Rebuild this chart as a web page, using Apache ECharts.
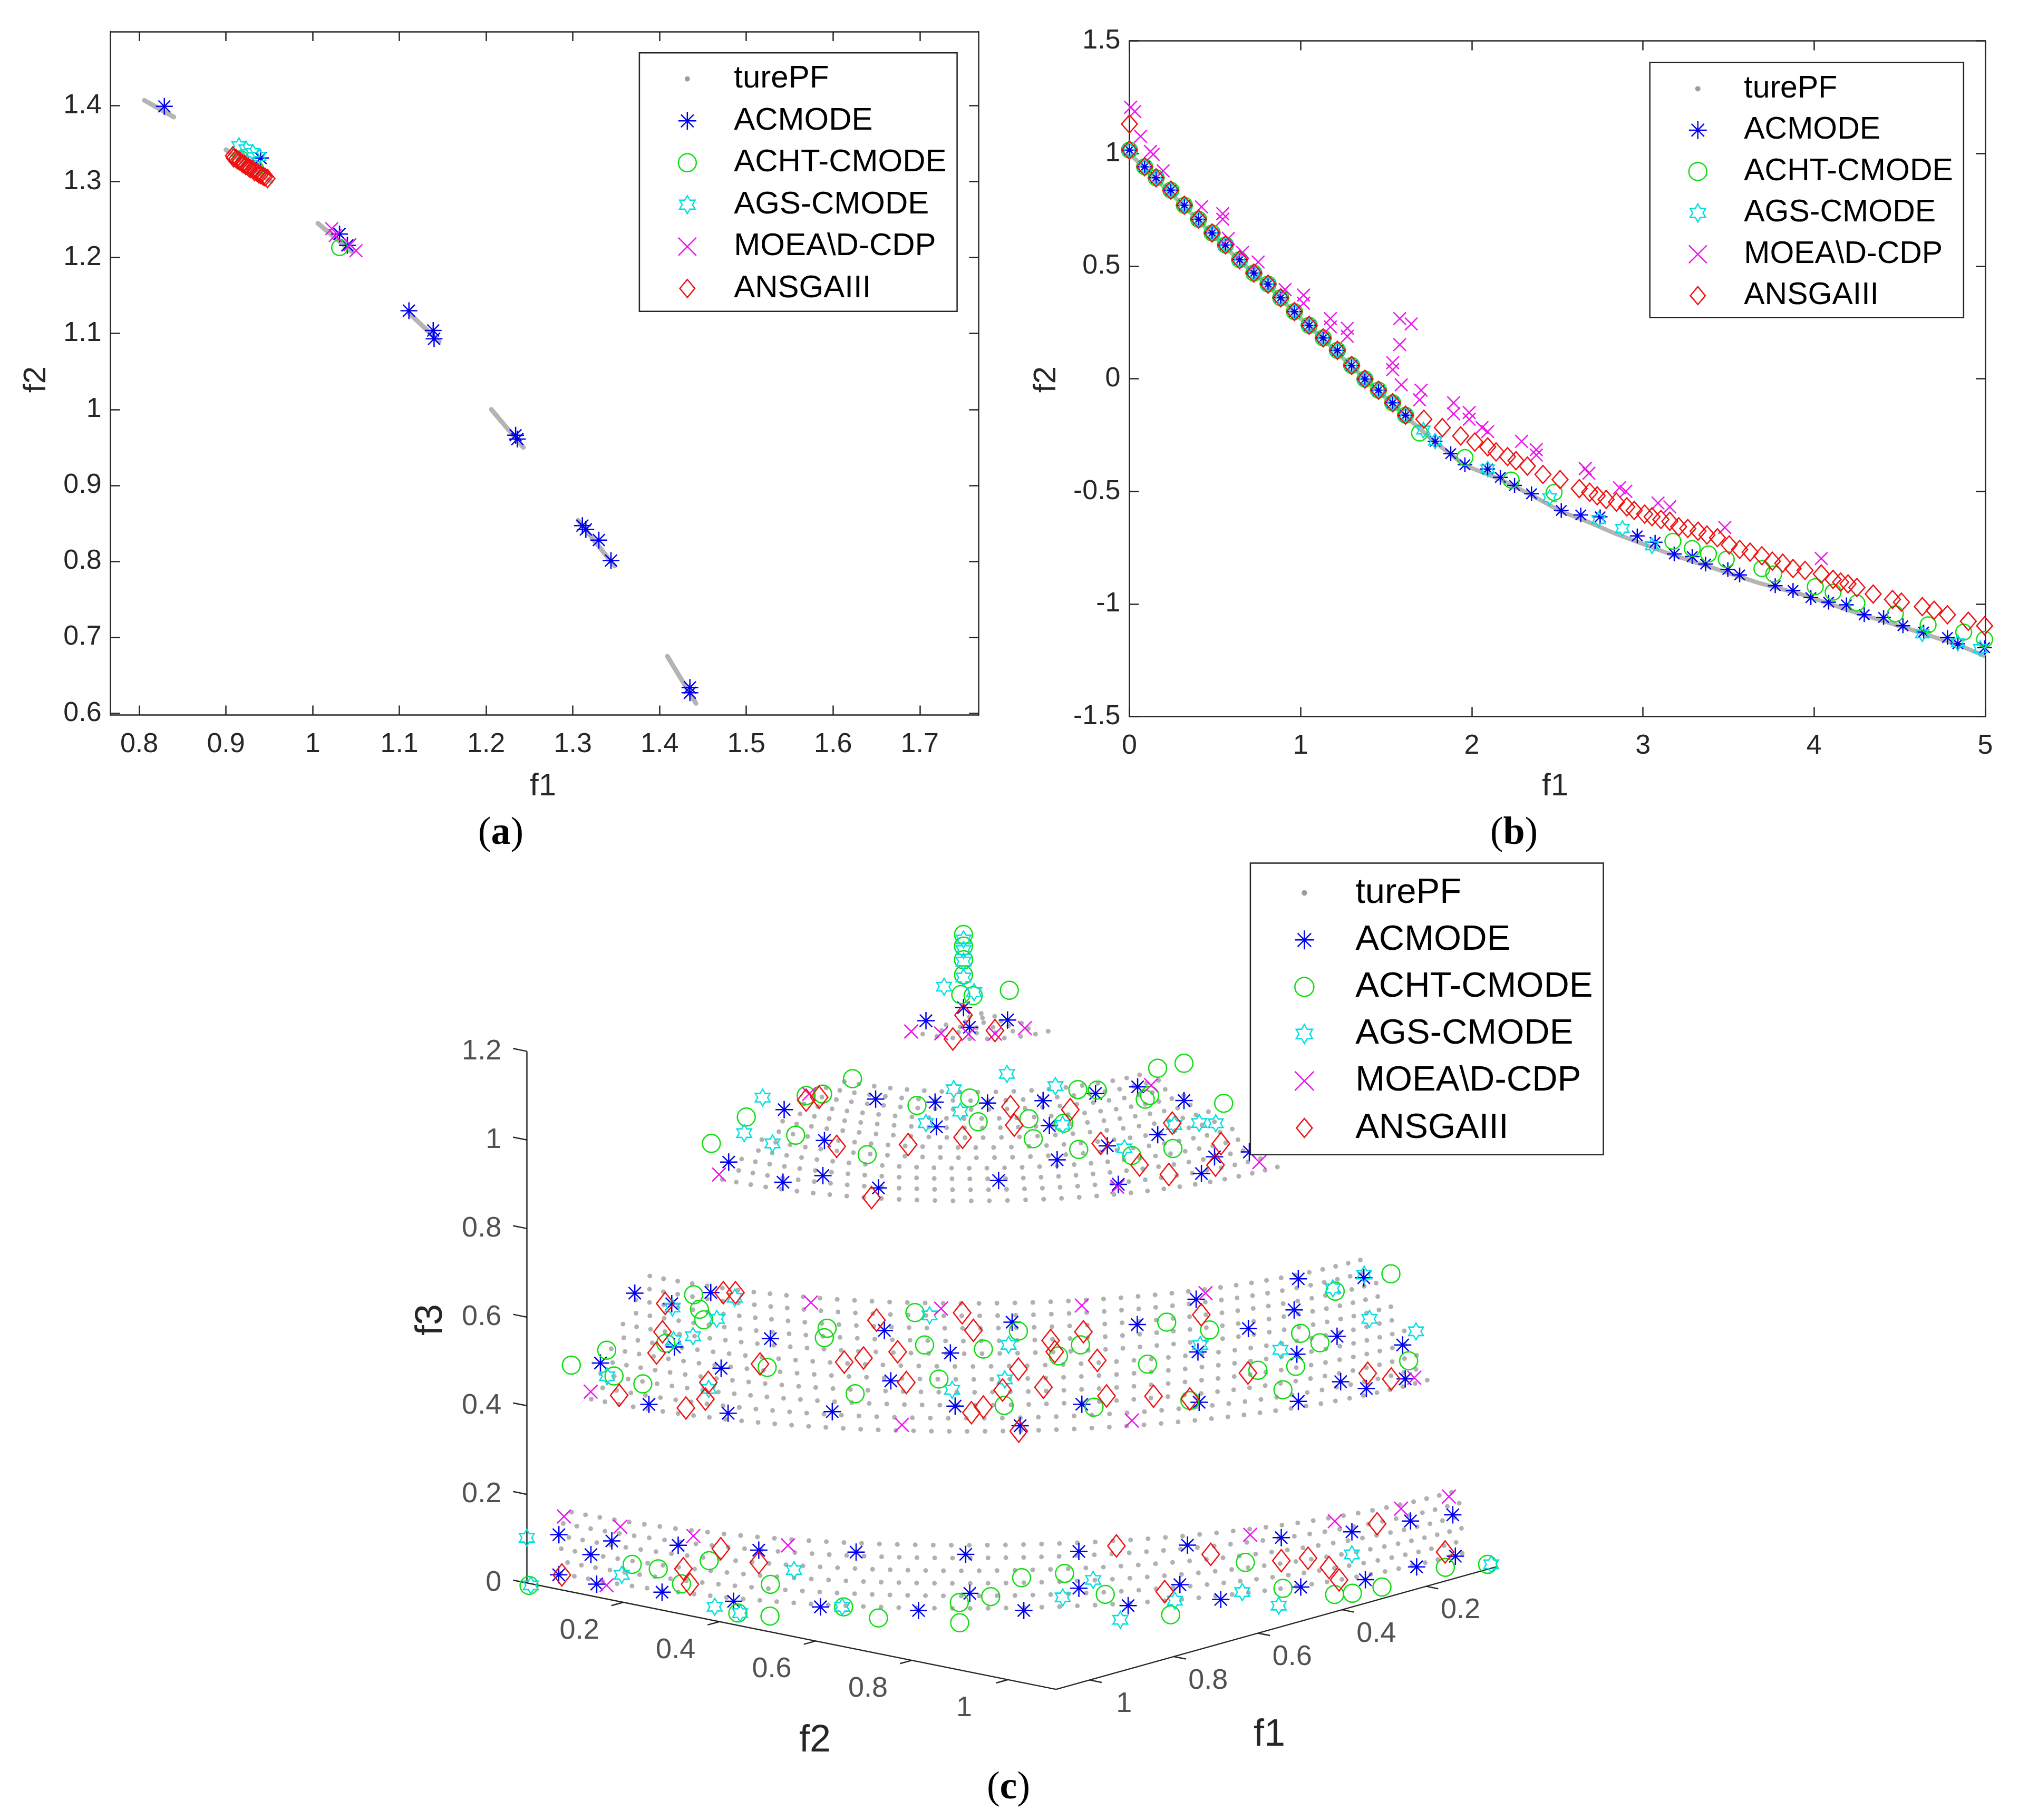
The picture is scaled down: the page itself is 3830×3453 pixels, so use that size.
<!DOCTYPE html>
<html>
<head>
<meta charset="utf-8">
<title>Pareto fronts (a) (b) (c)</title>
<script src="https://cdn.jsdelivr.net/npm/echarts@6/dist/echarts.min.js"></script>
<style>
html,body{margin:0;padding:0;background:#ffffff;}
#chart{width:3830px;height:3453px;}
</style>
</head>
<body>
<div id="chart"></div>
<script>
// ================= DATA =================
const SERIES_NAMES = ['turePF', 'ACMODE', 'ACHT-CMODE', 'AGS-CMODE', 'MOEA\\D-CDP', 'ANSGAIII'];

// ---- panel (a) ----
const A_X_TICKS = [0.8, 0.9, 1, 1.1, 1.2, 1.3, 1.4, 1.5, 1.6, 1.7];
const A_Y_TICKS = [0.6, 0.7, 0.8, 0.9, 1, 1.1, 1.2, 1.3, 1.4];
const A_X_RANGE = [0.7669, 1.7678];
const A_Y_RANGE = [0.5978, 1.4975];
const A_TRUEPF_SEGMENTS = [
  [[0.806, 1.407], [0.840, 1.385]],
  [[0.900, 1.342], [0.952, 1.300]],
  [[1.006, 1.245], [1.045, 1.208]],
  [[1.111, 1.127], [1.146, 1.089]],
  [[1.206, 1.000], [1.243, 0.950]],
  [[1.306, 0.854], [1.348, 0.794]],
  [[1.409, 0.675], [1.442, 0.613]]
];
const A_ACMODE = [[0.829,1.399],[0.940,1.331],[1.031,1.231],[1.040,1.216],[1.111,1.130],[1.139,1.104],[1.140,1.093],[1.234,0.966],[1.236,0.961],[1.311,0.847],[1.315,0.842],[1.330,0.828],[1.344,0.801],[1.435,0.634],[1.435,0.627]];
const A_ACHT = [[1.031,1.213],[0.917,1.330],[0.934,1.317]];
const A_AGS = [[0.915,1.347],[0.923,1.343],[0.931,1.338],[0.938,1.333]];
const A_MOEA = [[1.022,1.238],[1.026,1.229],[1.043,1.217],[1.050,1.209]];
const A_ANSGA = [[0.908,1.334],[0.909,1.331],[0.912,1.330],[0.914,1.328],[0.916,1.327],[0.919,1.324],[0.921,1.323],[0.923,1.321],[0.926,1.319],[0.928,1.317],[0.931,1.316],[0.933,1.313],[0.936,1.312],[0.938,1.310],[0.940,1.309],[0.943,1.307],[0.945,1.306],[0.948,1.304]];

// ---- panel (b) ----
const B_X_RANGE = [0, 5], B_X_STEP = 1;
const B_Y_RANGE = [-1.5, 1.5], B_Y_STEP = 0.5;
const B_TRUEPF = [[0,1.0],[0.156,0.885],[0.321,0.765],[0.483,0.642],[0.644,0.523],[0.810,0.414],[0.964,0.293],[1.132,0.176],[1.298,0.054],[1.455,-0.056],[1.613,-0.167],[1.786,-0.282],[1.960,-0.385],[2.167,-0.447],[2.349,-0.517],[2.523,-0.590],[2.672,-0.633],[2.845,-0.690],[3.157,-0.778],[3.452,-0.851],[3.678,-0.907],[3.920,-0.956],[4.233,-1.036],[4.545,-1.109],[4.840,-1.181],[5.0,-1.232]];
const B_COMMON_FRONT = [[0,1.015],[0.089,0.941],[0.156,0.892],[0.242,0.837],[0.321,0.770],[0.404,0.708],[0.483,0.647],[0.561,0.594],[0.644,0.528],[0.727,0.469],[0.810,0.420],[0.884,0.359],[0.964,0.298],[1.050,0.237],[1.132,0.181],[1.215,0.126],[1.298,0.059],[1.376,-0.002],[1.455,-0.051],[1.538,-0.107],[1.613,-0.162]];
const B_ACMODE_TAIL = [[1.786,-0.278],[1.877,-0.333],[1.960,-0.382],[2.093,-0.401],[2.167,-0.438],[2.250,-0.474],[2.349,-0.511],[2.523,-0.585],[2.637,-0.605],[2.750,-0.613],[2.967,-0.698],[3.071,-0.726],[3.183,-0.778],[3.288,-0.790],[3.366,-0.823],[3.496,-0.847],[3.565,-0.871],[3.773,-0.919],[3.877,-0.940],[3.981,-0.972],[4.085,-0.992],[4.189,-1.004],[4.293,-1.048],[4.406,-1.060],[4.519,-1.097],[4.640,-1.125],[4.779,-1.149],[4.840,-1.177],[4.996,-1.194]];
const B_ACHT_TAIL = [[1.695,-0.241],[1.960,-0.350],[2.230,-0.450],[2.481,-0.505],[3.175,-0.722],[3.288,-0.754],[3.383,-0.778],[3.487,-0.802],[3.695,-0.843],[3.764,-0.867],[4.007,-0.923],[4.111,-0.948],[4.250,-0.996],[4.475,-1.044],[4.666,-1.093],[4.874,-1.125],[4.996,-1.157]];
const B_AGS_TAIL = [[1.717,-0.228],[1.786,-0.277],[2.093,-0.401],[2.455,-0.528],[2.741,-0.625],[2.880,-0.665],[3.053,-0.742],[4.632,-1.133],[4.840,-1.173],[4.970,-1.198]];
const B_MOEA = [[0.007,1.205],[0.031,1.186],[0.065,1.076],[0.123,1.009],[0.139,0.996],[0.197,0.923],[0.421,0.763],[0.545,0.733],[0.545,0.708],[0.578,0.623],[0.661,0.561],[0.752,0.518],[0.909,0.396],[1.017,0.371],[1.017,0.335],[1.174,0.267],[1.174,0.230],[1.273,0.224],[1.273,0.188],[1.579,0.267],[1.646,0.243],[1.579,0.151],[1.538,0.071],[1.538,0.040],[1.588,-0.027],[1.704,-0.051],[1.695,-0.094],[1.894,-0.107],[1.894,-0.156],[1.985,-0.150],[1.985,-0.180],[2.060,-0.217],[2.093,-0.235],[2.291,-0.278],[2.377,-0.315],[2.377,-0.339],[2.663,-0.399],[2.684,-0.420],[2.863,-0.484],[2.900,-0.500],[3.088,-0.552],[3.157,-0.569],[3.478,-0.661],[4.042,-0.798]];
const B_ANSGA_HEAD = [[0,1.131]];
const B_ANSGA_TAIL = [[1.720,-0.180],[1.828,-0.217],[1.935,-0.254],[2.018,-0.281],[2.093,-0.303],[2.142,-0.325],[2.209,-0.346],[2.258,-0.364],[2.325,-0.388],[2.416,-0.425],[2.516,-0.448],[2.628,-0.488],[2.689,-0.504],[2.733,-0.520],[2.785,-0.536],[2.845,-0.548],[2.906,-0.569],[2.949,-0.585],[3.010,-0.601],[3.053,-0.613],[3.105,-0.625],[3.157,-0.633],[3.209,-0.657],[3.262,-0.665],[3.322,-0.677],[3.374,-0.694],[3.435,-0.706],[3.504,-0.738],[3.565,-0.758],[3.626,-0.770],[3.695,-0.786],[3.756,-0.810],[3.817,-0.819],[3.877,-0.843],[3.947,-0.851],[4.042,-0.867],[4.111,-0.891],[4.155,-0.903],[4.198,-0.911],[4.250,-0.927],[4.345,-0.956],[4.458,-0.980],[4.510,-0.992],[4.632,-1.012],[4.701,-1.028],[4.779,-1.048],[4.901,-1.077],[4.996,-1.097]];

// ---- panel (c) : 3-D values [f1, f2, f3] ----
const C_F1_LIM = [0.03, 1.08], C_F2_LIM = [0, 1.1], C_F3_LIM = [0, 1.2];
const C_F1_TICKS = [0.2, 0.4, 0.6, 0.8, 1];
const C_F2_TICKS = [0.2, 0.4, 0.6, 0.8, 1];
const C_F3_TICKS = [0, 0.2, 0.4, 0.6, 0.8, 1, 1.2];
// true PF: unit-sphere octant restricted to elevation bands (deg)
const C_PF_ELEV_BANDS = [[0, 8], [22, 38], [52, 70], [82, 90]];
const C_PF_ELEV_STEP = 1.6;
const C_PF_ROW_DOTS_AT_EQUATOR = 56;
const C_ACMODE = [
[0.057,0.013,1.031],[0.144,0.011,1.024],[0.043,0.013,0.983],[0.013,0.066,1.003],
[0.480,0.010,0.912],[0.613,0.011,0.829],[0.580,0.095,0.793],[0.540,0.143,0.808],[0.470,0.085,0.856],[0.354,0.090,0.920],[0.528,0.248,0.800],[0.319,0.183,0.924],[0.365,0.226,0.890],[0.271,0.250,0.924],[0.407,0.392,0.816],[0.204,0.307,0.924],[0.244,0.355,0.889],[0.301,0.421,0.841],[0.116,0.339,0.924],[0.208,0.444,0.853],[0.271,0.522,0.800],[0.041,0.361,0.924],[0.111,0.464,0.857],[0.012,0.432,0.901],[0.126,0.568,0.796],[0.072,0.548,0.815],[0.011,0.567,0.814],
[0.834,0.009,0.591],[0.918,0.011,0.456],[0.901,0.097,0.377],[0.837,0.094,0.489],[0.770,0.111,0.598],[0.830,0.185,0.459],[0.866,0.231,0.377],[0.777,0.241,0.524],[0.807,0.396,0.401],[0.706,0.416,0.562],[0.741,0.460,0.467],[0.660,0.513,0.520],[0.699,0.557,0.420],[0.575,0.567,0.579],[0.652,0.651,0.384],[0.559,0.698,0.418],[0.425,0.696,0.562],[0.309,0.717,0.593],[0.355,0.761,0.496],[0.399,0.802,0.403],[0.250,0.774,0.524],[0.156,0.787,0.544],[0.121,0.765,0.600],[0.193,0.825,0.462],[0.234,0.864,0.375],[0.110,0.836,0.483],[0.145,0.874,0.398],[0.011,0.805,0.582],[0.109,0.896,0.378],[0.009,0.884,0.447],[0.036,0.913,0.384],[0.801,0.057,0.569],
[1.011,0.006,0.092],[1.008,0.003,0],[0.992,0.056,0.053],[1.016,0.089,0],[0.987,0.095,0.091],[0.991,0.203,0],[0.971,0.219,0.104],[0.965,0.329,0],[0.928,0.349,0.110],[0.906,0.458,0],[0.867,0.498,0.122],[0.826,0.592,0],[0.762,0.634,0.119],[0.758,0.639,0.031],[0.721,0.719,0],[0.637,0.760,0.120],[0.637,0.760,0.037],[0.593,0.824,0],[0.510,0.859,0.033],[0.500,0.866,0.121],[0.470,0.909,0],[0.349,0.929,0.112],[0.329,0.952,0],[0.228,0.970,0.102],[0.228,0.998,0],[0.107,0.986,0.098],[0.113,1.004,0],[0.019,0.997,0.091],[0.022,1.005,0]
];
const C_ACHT = [
[0.057,0.013,1.196],[0.057,0.013,1.170],[0.057,0.013,1.139],[0.057,0.013,1.105],[0.059,0.009,1.060],[0.034,0.013,1.052],[0.011,0.068,1.070],
[0.652,0.009,0.881],[0.570,0.010,0.919],[0.479,0.033,0.859],[0.430,0.012,0.931],[0.391,0.012,0.924],[0.329,0.020,0.944],[0.469,0.173,0.843],[0.338,0.162,0.917],[0.279,0.220,0.931],[0.316,0.270,0.898],[0.255,0.322,0.900],[0.288,0.360,0.872],[0.220,0.364,0.890],[0.134,0.318,0.933],[0.252,0.423,0.852],[0.106,0.334,0.928],[0.192,0.481,0.835],[0.055,0.389,0.906],[0.041,0.386,0.910],[0.006,0.372,0.959],[0.116,0.500,0.835],[0.012,0.432,0.985],[0.008,0.511,0.911],
[0.986,0.010,0.469],[0.903,0.011,0.481],[0.896,0.020,0.423],[0.887,0.072,0.414],[0.781,0.085,0.590],[0.790,0.105,0.564],[0.798,0.121,0.546],[0.838,0.077,0.494],[0.804,0.258,0.470],[0.737,0.324,0.555],[0.747,0.327,0.537],[0.779,0.419,0.439],[0.662,0.441,0.596],[0.679,0.476,0.535],[0.693,0.518,0.471],[0.625,0.551,0.528],[0.651,0.617,0.422],[0.576,0.581,0.562],[0.547,0.639,0.511],[0.512,0.654,0.530],[0.546,0.712,0.411],[0.444,0.734,0.486],[0.379,0.717,0.560],[0.413,0.795,0.409],[0.316,0.751,0.533],[0.272,0.813,0.444],[0.249,0.845,0.401],[0.206,0.834,0.440],[0.167,0.810,0.499],[0.144,0.830,0.476],[0.071,0.798,0.566],[0.006,0.857,0.601],[0.013,0.900,0.416],
[1.090,0.013,0],[0.982,0.133,0.045],[0.976,0.182,0.044],[0.970,0.225,0.018],[0.959,0.273,0.078],[1.019,0.385,0],[0.921,0.367,0.035],[1.002,0.437,0],[0.883,0.486,0],[0.903,0.576,0],[0.768,0.626,0.010],[0.846,0.695,0],[0.738,0.665,0.024],[0.708,0.703,0.067],[0.655,0.746,0.072],[0.604,0.786,0.020],[0.596,0.915,0],[0.407,0.905,0.066],[0.353,0.936,0],[0.332,1.025,0],[0.308,1.041,0],[0.248,1.050,0],[0.087,1.041,0],[0.030,1.079,0]
];
const C_AGS = [
[0.057,0.013,1.185],[0.057,0.013,1.161],[0.057,0.013,1.135],[0.057,0.013,1.099],[0.102,0.012,1.090],[0.033,0.014,1.060],
[0.530,0.009,0.952],[0.575,0.010,0.884],[0.510,0.012,0.844],[0.278,0.186,0.943],[0.314,0.231,0.912],[0.195,0.224,0.964],[0.161,0.295,0.943],[0.366,0.205,0.894],[0.225,0.366,0.888],[0.188,0.462,0.846],[0.066,0.459,0.866],[0.025,0.475,0.863],[0.012,0.498,0.864],
[0.804,0.061,0.562],[0.790,0.141,0.550],[0.818,0.116,0.513],[0.832,0.088,0.502],[0.900,0.009,0.421],[0.761,0.153,0.593],[0.855,0.181,0.418],[0.650,0.461,0.591],[0.689,0.542,0.451],[0.597,0.579,0.536],[0.629,0.599,0.471],[0.345,0.757,0.508],[0.216,0.811,0.475],[0.072,0.794,0.572],[0.008,0.803,0.588],[0.040,0.842,0.505],[0.007,0.910,0.483],
[1.085,0.004,0.104],[1.088,0.015,0],[0.985,0.114,0.018],[1.011,0.330,0],[1.017,0.388,0],[0.906,0.403,0.071],[0.884,0.484,0],[0.657,0.744,0.018],[0.619,0.774,0.054],[0.671,0.876,0],[0.522,0.859,0],[0.412,0.903,0],[0.443,1.006,0],[0.228,0.970,0.051],[0.026,1.083,0]
];
const C_MOEA = [
[0.179,0.011,1.009],[0.108,0.011,0.986],[0.044,0.012,0.968],[0.012,0.039,0.966],[0.014,0.103,0.993],
[0.636,0.011,0.807],[0.422,0.011,0.932],[0.278,0.526,0.797],[0.017,0.368,0.923],[0.016,0.592,0.798],
[0.940,0.010,0.397],[0.724,0.279,0.600],[0.766,0.505,0.384],[0.633,0.470,0.604],[0.478,0.627,0.604],[0.511,0.760,0.382],[0.289,0.719,0.602],[0.019,0.917,0.383],
[0.999,0.006,0.130],[0.985,0.111,0.126],[0.967,0.247,0.130],[0.910,0.394,0.126],[1.012,0.106,0],[0.399,0.908,0.127],[0.263,0.965,0.134],[0.126,0.983,0.130],[0.027,0.996,0.134]
];
const C_ANSGA = [
[0.057,0.013,1.014],[0.080,0.011,0.966],[0.012,0.039,0.973],
[0.429,0.011,0.920],[0.399,0.012,0.919],[0.474,0.114,0.850],[0.557,0.259,0.788],[0.422,0.217,0.863],[0.360,0.276,0.876],[0.253,0.282,0.918],[0.284,0.317,0.892],[0.184,0.346,0.907],[0.211,0.433,0.857],[0.200,0.504,0.821],[0.176,0.544,0.802],[0.065,0.454,0.869],[0.088,0.564,0.804],[0.035,0.529,0.831],
[0.910,0.043,0.388],[0.804,0.046,0.568],[0.831,0.064,0.515],[0.852,0.070,0.474],[0.884,0.159,0.378],[0.865,0.183,0.398],[0.849,0.175,0.430],[0.763,0.131,0.600],[0.757,0.151,0.603],[0.805,0.244,0.475],[0.758,0.378,0.496],[0.743,0.405,0.507],[0.703,0.397,0.580],[0.711,0.448,0.522],[0.727,0.480,0.464],[0.616,0.499,0.596],[0.689,0.582,0.408],[0.619,0.525,0.563],[0.673,0.593,0.419],[0.640,0.604,0.451],[0.608,0.609,0.491],[0.661,0.656,0.375],[0.592,0.647,0.454],[0.544,0.620,0.541],[0.549,0.633,0.520],[0.497,0.647,0.554],[0.504,0.682,0.499],[0.522,0.717,0.431],[0.463,0.763,0.425],[0.315,0.733,0.563],[0.412,0.794,0.412],[0.291,0.809,0.442],[0.092,0.884,0.405],[0.059,0.904,0.388],
[1.005,0.007,0],[0.970,0.229,0.053],[0.968,0.241,0.020],[0.952,0.291,0.107],[0.928,0.349,0.082],[0.590,0.797,0.128],[0.529,0.844,0.019],[0.463,0.882,0.094],[0.349,0.929,0.060],[0.306,0.947,0.058],[0.272,0.961,0.031],[0.255,0.967,0],[0.176,0.977,0.108],[0.035,0.995,0.011]
];

// ================= STYLE / LAYOUT =================
const FONT = '"Liberation Sans", Arial, Helvetica, sans-serif';
const SERIF = '"Liberation Serif", "Times New Roman", serif';
const AX = '#262626';
const COL = { pf: '#b4b4b4', pfDot: '#9e9e9e', acm: '#0000f0', acht: '#10dd10', ags: '#00e0e0', moea: '#ee10ee', ansga: '#f01010' };
const SYM = {
  star: 'path://M0,-10L0,10M-10,0L10,0M-7.07,-7.07L7.07,7.07M-7.07,7.07L7.07,-7.07',
  hex: 'path://M0,-10L-2.89,-5L-8.66,-5L-5.77,0L-8.66,5L-2.89,5L0,10L2.89,5L8.66,5L5.77,0L8.66,-5L2.89,-5Z',
  cross: 'path://M-10,-10L10,10M-10,10L10,-10',
  diamond: 'path://M0,-12L10,0L0,12L-10,0Z',
  dot: 'path://M-17,-17L-17,-17ZM17,17L17,17ZM0,-5A5,5,0,1,1,0,5A5,5,0,1,1,0,-5Z'
};
const MARKS = [null,
  { symbol: SYM.star, color: COL.acm },
  { symbol: 'circle', color: COL.acht },
  { symbol: SYM.hex, color: COL.ags },
  { symbol: SYM.cross, color: COL.moea },
  { symbol: SYM.diamond, color: COL.ansga }
];
const SIZES = {
  a: [null, 32, 30, [26, 30], 24, [28, 34]],
  b: [null, 28, 30, [25, 29], 24, [30, 34]],
  c: [null, 33, 34, [28, 32], 26, [33, 42]]
};
const C_VIEW = { azimuthDeg: 130.36, elevationDeg: 13.69, unitPx: [1232.1, 1197.4, 865.1], originPx: [1861.4, 2763.3] };
const C_TICK_LEN = { f1: 0.025, f2: 0.028, f3: 0.029 };
const CANVAS = [3830, 3453];

// ================= HELPERS =================
function project(p) {
  const a = C_VIEW.azimuthDeg * Math.PI / 180, e = C_VIEW.elevationDeg * Math.PI / 180;
  const x = p[0] * C_VIEW.unitPx[0], y = p[1] * C_VIEW.unitPx[1], z = p[2] * C_VIEW.unitPx[2];
  const vx = x * Math.cos(a) + y * Math.sin(a);
  const vy = -x * Math.sin(a) * Math.sin(e) + y * Math.cos(a) * Math.sin(e) + z * Math.cos(e);
  return [vx, vy];
}
function truePFc() {
  const out = [];
  C_PF_ELEV_BANDS.forEach(function (b) {
    const lo = b[0], hi = b[1];
    const rows = Math.max(1, Math.round((hi - lo) / C_PF_ELEV_STEP));
    for (let r = 0; r <= rows; r++) {
      const el = (lo + (hi - lo) * r / rows) * Math.PI / 180;
      const c = Math.cos(el), s = Math.sin(el);
      const n = Math.max(1, Math.round(C_PF_ROW_DOTS_AT_EQUATOR * c));
      const shift = (r % 2) * 0.5;
      for (let k = 0; k <= n; k++) {
        const t = (k + shift) / n;
        if (t > 1) break;
        const az = t * Math.PI / 2;
        out.push([c * Math.cos(az), c * Math.sin(az), s]);
      }
    }
  });
  return out;
}
function scatter(i, data, panel, xi, yi) {
  return {
    type: 'scatter', name: SERIES_NAMES[i], xAxisIndex: xi, yAxisIndex: yi, data: data,
    symbol: MARKS[i].symbol, symbolSize: SIZES[panel][i], clip: false, silent: true, z: 3,
    itemStyle: { color: 'rgba(0,0,0,0)', borderColor: MARKS[i].color, borderWidth: 2.5, opacity: 1 }
  };
}
function axis(extra) {
  return Object.assign({
    type: 'value',
    axisLine: { show: true, onZero: false, lineStyle: { color: AX, width: 2.5 } },
    axisTick: { show: true, inside: true, length: 18, lineStyle: { color: AX, width: 2.5 } },
    splitLine: { show: false },
    axisLabel: { show: true, color: AX, fontSize: 52, fontFamily: FONT }
  }, extra);
}
function legendItems() {
  const items = [{ name: SERIES_NAMES[0], icon: SYM.dot, itemStyle: { color: COL.pfDot, borderWidth: 0, borderColor: 'rgba(0,0,0,0)' } }];
  for (let i = 1; i <= 5; i++) {
    items.push({ name: SERIES_NAMES[i], icon: MARKS[i].symbol, itemStyle: { color: 'rgba(0,0,0,0)', borderColor: MARKS[i].color, borderWidth: 2.5 } });
  }
  return items;
}
function legend(left, top, padding, gap, iw, ih, fs, lh) {
  return {
    orient: 'vertical', left: left, top: top, padding: padding, itemGap: gap,
    itemWidth: iw, itemHeight: ih, selectedMode: false,
    backgroundColor: '#ffffff', borderColor: AX, borderWidth: 2.5,
    textStyle: { fontSize: fs, lineHeight: lh, color: '#000000', fontFamily: FONT },
    data: legendItems()
  };
}
function txt(x, y, text, size, rot) {
  return { type: 'text', x: x, y: y, rotation: rot || 0, silent: true, z: 10,
    style: { text: text, fontSize: size, fontFamily: FONT, fill: AX, align: 'center', verticalAlign: 'middle', textAlign: 'center', textVerticalAlign: 'middle' } };
}
function caption(x, y, letter) {
  return { type: 'text', x: x, y: y, silent: true, z: 10,
    style: { text: '{p|(}{b|' + letter + '}{p|)}', align: 'center', verticalAlign: 'middle', textAlign: 'center', textVerticalAlign: 'middle',
      rich: { p: { fontSize: 74, fontFamily: SERIF, fill: '#000' }, b: { fontSize: 74, fontFamily: SERIF, fontWeight: 'bold', fill: '#000' } } } };
}
const fmt1 = function (v) { return String(Math.round(v * 10) / 10); };

// ================= SERIES =================
const series = [];
// (a)
series.push({ type: 'lines', name: SERIES_NAMES[0], coordinateSystem: 'cartesian2d', xAxisIndex: 0, yAxisIndex: 0,
  data: A_TRUEPF_SEGMENTS.map(function (s) { return { coords: s }; }),
  lineStyle: { color: COL.pf, width: 9, opacity: 1, cap: 'round' }, silent: true, z: 2 });
series.push(scatter(1, A_ACMODE, 'a', 0, 0));
series.push(scatter(2, A_ACHT, 'a', 0, 0));
series.push(scatter(3, A_AGS, 'a', 0, 0));
series.push(scatter(4, A_MOEA, 'a', 0, 0));
series.push(scatter(5, A_ANSGA, 'a', 0, 0));
// (b)
series.push({ type: 'line', name: SERIES_NAMES[0], xAxisIndex: 2, yAxisIndex: 2, data: B_TRUEPF,
  symbol: 'none', showSymbol: false, lineStyle: { color: COL.pf, width: 8 }, silent: true, z: 2, clip: false });
series.push(scatter(1, B_COMMON_FRONT.concat(B_ACMODE_TAIL), 'b', 2, 2));
series.push(scatter(2, B_COMMON_FRONT.concat(B_ACHT_TAIL), 'b', 2, 2));
series.push(scatter(3, B_COMMON_FRONT.concat(B_AGS_TAIL), 'b', 2, 2));
series.push(scatter(4, B_MOEA, 'b', 2, 2));
series.push(scatter(5, B_ANSGA_HEAD.concat(B_COMMON_FRONT, B_ANSGA_TAIL), 'b', 2, 2));
// (c) 3-D axes drawn through the view projection
const f1min = C_F1_LIM[0], f1max = C_F1_LIM[1], f2min = C_F2_LIM[0], f2max = C_F2_LIM[1];
function seg3(p, q) { return { coords: [project(p), project(q)] }; }
const cAxisSegs = [
  seg3([f1max, f2min, C_F3_LIM[0]], [f1max, f2min, C_F3_LIM[1]]),
  seg3([f1max, f2min, 0], [f1max, f2max, 0]),
  seg3([f1max, f2max, 0], [f1min, f2max, 0])
];
C_F3_TICKS.forEach(function (v) { cAxisSegs.push(seg3([f1max, f2min, v], [f1max, f2min - C_TICK_LEN.f3, v])); });
C_F2_TICKS.forEach(function (v) { cAxisSegs.push(seg3([f1max, v, 0], [f1max + C_TICK_LEN.f2, v, 0])); });
C_F1_TICKS.forEach(function (v) { cAxisSegs.push(seg3([v, f2max, 0], [v, f2max + C_TICK_LEN.f1, 0])); });
series.push({ type: 'lines', coordinateSystem: 'cartesian2d', xAxisIndex: 4, yAxisIndex: 4, data: cAxisSegs,
  lineStyle: { color: AX, width: 2.5, opacity: 1 }, silent: true, z: 1 });
function tickLabelSeries(data, label) {
  return { type: 'scatter', xAxisIndex: 4, yAxisIndex: 4, symbolSize: 1, silent: true, z: 5,
    itemStyle: { color: 'rgba(0,0,0,0)' }, data: data,
    label: Object.assign({ show: true, formatter: function (p) { return p.name; }, fontSize: 54, color: AX, fontFamily: FONT }, label) };
}
series.push(tickLabelSeries(C_F3_TICKS.map(function (v) { return { name: fmt1(v), value: project([f1max, f2min, v]) }; }), { position: 'left', distance: 48 }));
series.push(tickLabelSeries(C_F2_TICKS.map(function (v) { return { name: fmt1(v), value: project([f1max, v, 0]) }; }), { position: 'inside', offset: [-83, 54] }));
series.push(tickLabelSeries(C_F1_TICKS.map(function (v) { return { name: fmt1(v), value: project([v, f2max, 0]) }; }), { position: 'inside', offset: [65, 46] }));
// (c) data
series.push({ type: 'scatter', name: SERIES_NAMES[0], xAxisIndex: 4, yAxisIndex: 4, data: truePFc().map(project),
  symbol: 'circle', symbolSize: 9, itemStyle: { color: COL.pfDot }, silent: true, z: 2 });
series.push(scatter(1, C_ACMODE.map(project), 'c', 4, 4));
series.push(scatter(2, C_ACHT.map(project), 'c', 4, 4));
series.push(scatter(3, C_AGS.map(project), 'c', 4, 4));
series.push(scatter(4, C_MOEA.map(project), 'c', 4, 4));
series.push(scatter(5, C_ANSGA.map(project), 'c', 4, 4));

// ================= OPTION =================
const option = {
  backgroundColor: '#ffffff',
  animation: false,
  grid: [
    { left: 209.6, top: 59.9, width: 1646.7, height: 1296.5 },
    { left: 2142.5, top: 77.5, width: 1623.5, height: 1282 },
    { left: 0, top: 0, width: CANVAS[0], height: CANVAS[1] }
  ],
  xAxis: [
    axis({ gridIndex: 0, position: 'bottom', min: A_X_RANGE[0], max: A_X_RANGE[1],
      axisTick: { show: true, inside: true, length: 18, customValues: A_X_TICKS, lineStyle: { color: AX, width: 2.5 } },
      axisLabel: { show: true, customValues: A_X_TICKS, formatter: fmt1, color: AX, fontSize: 52, fontFamily: FONT, margin: 30 } }),
    axis({ gridIndex: 0, position: 'top', min: A_X_RANGE[0], max: A_X_RANGE[1],
      axisTick: { show: true, inside: true, length: 18, customValues: A_X_TICKS, lineStyle: { color: AX, width: 2.5 } },
      axisLabel: { show: false } }),
    axis({ gridIndex: 1, position: 'bottom', min: B_X_RANGE[0], max: B_X_RANGE[1], interval: B_X_STEP,
      axisLabel: { show: true, color: AX, fontSize: 52, fontFamily: FONT, margin: 30 } }),
    axis({ gridIndex: 1, position: 'top', min: B_X_RANGE[0], max: B_X_RANGE[1], interval: B_X_STEP, axisLabel: { show: false } }),
    { type: 'value', gridIndex: 2, show: false, min: -C_VIEW.originPx[0], max: CANVAS[0] - C_VIEW.originPx[0] }
  ],
  yAxis: [
    axis({ gridIndex: 0, position: 'left', min: A_Y_RANGE[0], max: A_Y_RANGE[1],
      axisTick: { show: true, inside: true, length: 18, customValues: A_Y_TICKS, lineStyle: { color: AX, width: 2.5 } },
      axisLabel: { show: true, customValues: A_Y_TICKS, formatter: fmt1, color: AX, fontSize: 52, fontFamily: FONT, margin: 17 } }),
    axis({ gridIndex: 0, position: 'right', min: A_Y_RANGE[0], max: A_Y_RANGE[1],
      axisTick: { show: true, inside: true, length: 18, customValues: A_Y_TICKS, lineStyle: { color: AX, width: 2.5 } },
      axisLabel: { show: false } }),
    axis({ gridIndex: 1, position: 'left', min: B_Y_RANGE[0], max: B_Y_RANGE[1], interval: B_Y_STEP,
      axisLabel: { show: true, color: AX, fontSize: 52, fontFamily: FONT, margin: 17 } }),
    axis({ gridIndex: 1, position: 'right', min: B_Y_RANGE[0], max: B_Y_RANGE[1], interval: B_Y_STEP, axisLabel: { show: false } }),
    { type: 'value', gridIndex: 2, show: false, min: C_VIEW.originPx[1] - CANVAS[1], max: C_VIEW.originPx[1] }
  ],
  legend: [
    legend(1212.9, 100.2, [19.6, 20, 13.4, 72.7], 19.5, 166.8, 34, 60, 60),
    legend(3129.7, 118.8, [19.6, 20, 11.3, 72.8], 18.5, 165, 34, 59, 60),
    legend(2371.9, 1637.5, [23.1, 20, 17.2, 83.2], 22.2, 183.6, 36, 67, 66)
  ],
  graphic: [
    txt(69, 720, 'f2', 60, Math.PI / 2),
    txt(1030, 1492, 'f1', 60),
    txt(1985, 720, 'f2', 60, Math.PI / 2),
    txt(2950, 1492, 'f1', 60),
    txt(818, 2504, 'f3', 72, Math.PI / 2),
    txt(1546, 3303, 'f2', 72),
    txt(2408, 3292, 'f1', 72),
    caption(950, 1582, 'a'),
    caption(2872, 1582, 'b'),
    caption(1913, 3393, 'c')
  ],
  series: series
};

const chart = echarts.init(document.getElementById('chart'), null, { renderer: 'canvas', width: CANVAS[0], height: CANVAS[1] });
chart.setOption(option);
</script>
</body>
</html>
